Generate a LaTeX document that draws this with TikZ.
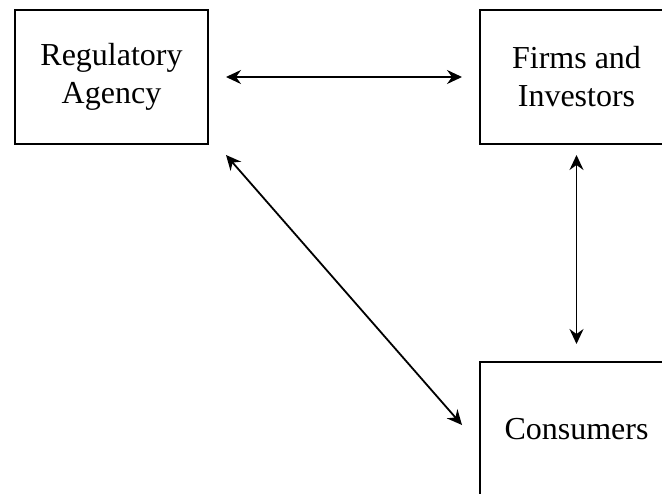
\documentclass[tikz,border=0pt]{standalone}
\usepackage{fontspec}
\setmainfont{Liberation Serif}
\usetikzlibrary{arrows.meta}
\begin{document}
\begin{tikzpicture}[x=0.5pt, y=-0.5pt,
        box/.style={draw, line width=1pt, minimum width=96.5pt, minimum height=67pt,
            inner sep=0pt, align=center, font=\fontsize{16}{19}\selectfont},
        link/.style={line width=0.9pt, {Stealth[length=7.5pt,width=7pt,inset=2.5pt]}-{Stealth[length=7.5pt,width=7pt,inset=2.5pt]}}]
        \useasboundingbox (0, 0) rectangle (662, 493);
        \clip (0, 0) rectangle (662, 493);

        % Agents
        \node at (111.5, 77) (reg) [box] {Regulatory\\Agency};
        \node at (576.5, 77) (firms) [box] {Firms and\\Investors};
        \node at (576.5, 429) (cons) [box] {Consumers};

        % Relations
        \draw[link, shorten <=8.5pt, shorten >=8.5pt] (reg.east) -- (firms.west);
        \draw[link, shorten <=5pt, shorten >=8.5pt] (firms.south) -- (cons.north);
        \draw[link] ([xshift=8.5pt, yshift=-5pt]reg.south east) -- ([xshift=-8.5pt, yshift=2pt]cons.west);
    \end{tikzpicture}
\end{document}
